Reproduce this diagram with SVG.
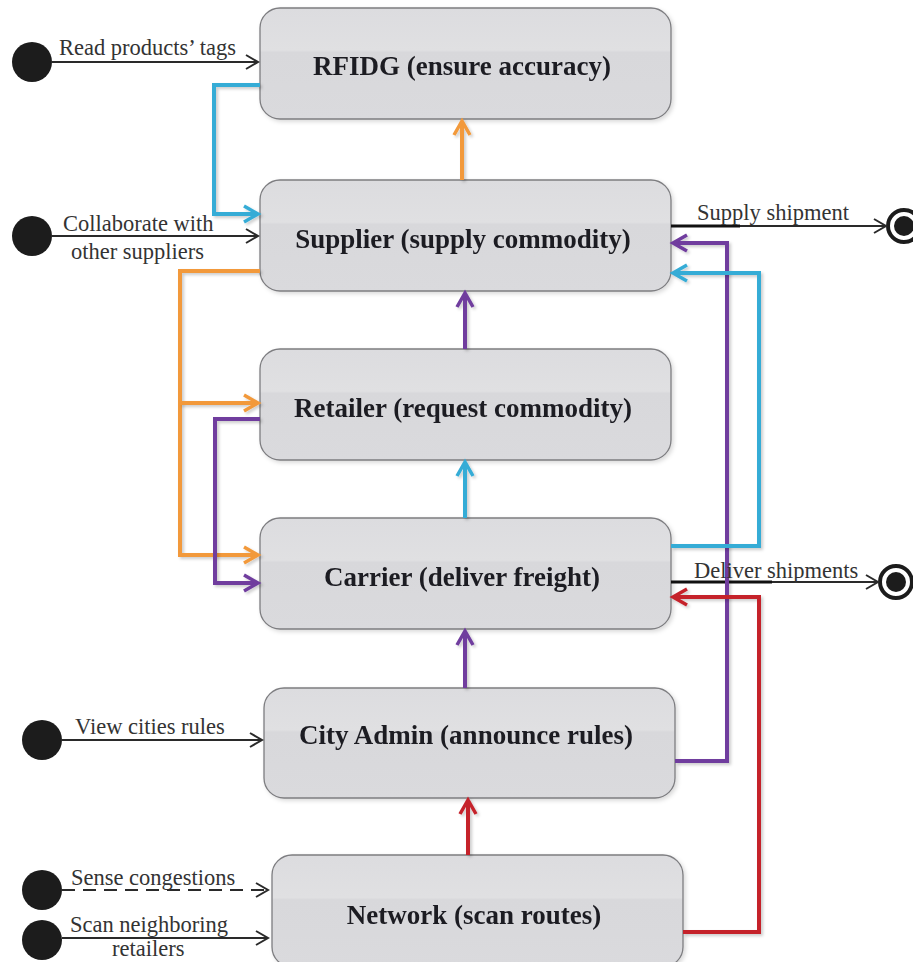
<svg xmlns="http://www.w3.org/2000/svg" width="913" height="962" viewBox="0 0 913 962">
  <style>
    .node rect { fill: url(#nodeFill); stroke: #7d7d80; stroke-width: 1.3; }
    .node text { font-family: "Liberation Serif", serif; font-weight: bold; font-size: 27px; fill: #1e1e24; text-anchor: middle; }
    .lbl { font-family: "Liberation Serif", serif; font-size: 22.5px; fill: #333; }
    .start { fill: #1c1c1c; }
    .flow { fill: none; stroke: #2a2a2a; stroke-width: 2; }
    .link { fill: none; stroke-width: 4; stroke-linejoin: miter; filter: url(#soft); }
    .orange { stroke: #f2993a; }
    .blue { stroke: #36acd6; }
    .purple { stroke: #6f3c9e; }
    .red { stroke: #c5232c; }
  </style>
  <defs>
    <linearGradient id="nodeFill" x1="0" y1="0" x2="0" y2="1">
      <stop offset="0" stop-color="#dcdcdf"/>
      <stop offset="0.38" stop-color="#e0e0e2"/>
      <stop offset="0.4" stop-color="#d8d8db"/>
      <stop offset="1" stop-color="#dadadd"/>
    </linearGradient>
    <filter id="soft" filterUnits="userSpaceOnUse" x="0" y="0" width="913" height="962">
      <feDropShadow dx="2" dy="2" stdDeviation="1.5" flood-color="#000" flood-opacity="0.2"/>
    </filter>
    <filter id="boxShadow" x="-5%" y="-5%" width="115%" height="120%">
      <feDropShadow dx="2" dy="2" stdDeviation="2" flood-color="#000" flood-opacity="0.15"/>
    </filter>
    <marker id="aBlack" markerUnits="userSpaceOnUse" markerWidth="16" markerHeight="16" refX="13" refY="8" orient="auto">
      <path d="M1,1 L13,8 L1,15" fill="none" stroke="#2a2a2a" stroke-width="2"/>
    </marker>
    <marker id="aOrange" markerUnits="userSpaceOnUse" markerWidth="20" markerHeight="20" refX="16" refY="10" orient="auto">
      <path d="M2,2 L16,10 L2,18" fill="none" stroke="#f2993a" stroke-width="3.5"/>
    </marker>
    <marker id="aBlue" markerUnits="userSpaceOnUse" markerWidth="20" markerHeight="20" refX="16" refY="10" orient="auto">
      <path d="M2,2 L16,10 L2,18" fill="none" stroke="#36acd6" stroke-width="3.5"/>
    </marker>
    <marker id="aPurple" markerUnits="userSpaceOnUse" markerWidth="20" markerHeight="20" refX="16" refY="10" orient="auto">
      <path d="M2,2 L16,10 L2,18" fill="none" stroke="#6f3c9e" stroke-width="3.5"/>
    </marker>
    <marker id="aRed" markerUnits="userSpaceOnUse" markerWidth="20" markerHeight="20" refX="16" refY="10" orient="auto">
      <path d="M2,2 L16,10 L2,18" fill="none" stroke="#c5232c" stroke-width="3.5"/>
    </marker>
  </defs>

  <rect width="913" height="962" fill="#fff"/>

  <!-- state nodes -->
  <g id="rfidg" class="node" filter="url(#boxShadow)">
    <rect x="260" y="8" width="411" height="111" rx="20"/>
    <text x="462" y="75">RFIDG (ensure accuracy)</text>
  </g>
  <g id="supplier" class="node" filter="url(#boxShadow)">
    <rect x="260" y="180" width="411" height="111" rx="20"/>
    <text x="463" y="248">Supplier (supply commodity)</text>
  </g>
  <g id="retailer" class="node" filter="url(#boxShadow)">
    <rect x="260" y="349" width="411" height="111" rx="20"/>
    <text x="463" y="417">Retailer (request commodity)</text>
  </g>
  <g id="carrier" class="node" filter="url(#boxShadow)">
    <rect x="260" y="518" width="411" height="111" rx="20"/>
    <text x="462" y="586">Carrier (deliver freight)</text>
  </g>
  <g id="city-admin" class="node" filter="url(#boxShadow)">
    <rect x="264" y="688" width="411" height="110" rx="20"/>
    <text x="466" y="744">City Admin (announce rules)</text>
  </g>
  <g id="network" class="node" filter="url(#boxShadow)">
    <rect x="272" y="855" width="411" height="112" rx="20"/>
    <text x="474" y="924">Network (scan routes)</text>
  </g>

  <!-- start and end states -->
  <g id="start-states">
    <circle class="start" cx="32" cy="62" r="20"/>
    <circle class="start" cx="32" cy="236" r="20"/>
    <circle class="start" cx="42" cy="740" r="20"/>
    <circle class="start" cx="42" cy="890" r="20"/>
    <circle class="start" cx="42" cy="940" r="20"/>
  </g>
  <g id="end-states">
    <circle cx="904" cy="226" r="16" fill="#fff" stroke="#1c1c1c" stroke-width="4"/>
    <circle cx="904" cy="226" r="10" fill="#1c1c1c"/>
    <circle cx="896" cy="582" r="16" fill="#fff" stroke="#1c1c1c" stroke-width="4"/>
    <circle cx="896" cy="582" r="10" fill="#1c1c1c"/>
  </g>

  <!-- connectors -->
  <g id="connectors">
    <!-- external triggers -->
    <path class="flow" d="M52,62 H258" marker-end="url(#aBlack)"/>
    <path class="flow" d="M52,236 H258" marker-end="url(#aBlack)"/>
    <path class="flow" d="M62,740 H262" marker-end="url(#aBlack)"/>
    <path class="flow" d="M62,890 H268" stroke-dasharray="13,8" marker-end="url(#aBlack)"/>
    <path class="flow" d="M62,938 H268" marker-end="url(#aBlack)"/>
    <!-- outputs to end states -->
    <path class="flow" d="M671,226 H886" marker-end="url(#aBlack)"/>
    <path d="M671,226 H740" stroke="#111" stroke-width="3"/>
    <path class="flow" d="M671,582 H878" marker-end="url(#aBlack)"/>
    <path d="M671,582 H772" stroke="#111" stroke-width="3"/>

    <!-- vertical chain -->
    <path class="link orange" d="M462,180 V121" marker-end="url(#aOrange)"/>
    <path class="link purple" d="M465,349 V293" marker-end="url(#aPurple)"/>
    <path class="link blue" d="M465,518 V462" marker-end="url(#aBlue)"/>
    <path class="link purple" d="M465,688 V631" marker-end="url(#aPurple)"/>
    <path class="link red" d="M468,855 V800" marker-end="url(#aRed)"/>

    <!-- left-side loops -->
    <path class="link blue" d="M260,85 H214 V214 H258" marker-end="url(#aBlue)"/>
    <path class="link orange" d="M260,271 H180 V555 H258" marker-end="url(#aOrange)"/>
    <path class="link orange" d="M180,403 H258" marker-end="url(#aOrange)"/>
    <path class="link purple" d="M260,419 H215 V583 H258" marker-end="url(#aPurple)"/>

    <!-- right-side loops -->
    <path class="link purple" d="M675,761 H727 V243 H673" marker-end="url(#aPurple)"/>
    <path class="link blue" d="M671,546 H759 V273 H673" marker-end="url(#aBlue)"/>
    <path class="link red" d="M683,932 H759 V597 H673" marker-end="url(#aRed)"/>
  </g>

  <!-- connector labels -->
  <g id="labels">
    <text class="lbl" x="59" y="55">Read products’ tags</text>
    <text class="lbl" x="63" y="231">Collaborate with</text>
    <text class="lbl" x="71" y="259">other suppliers</text>
    <text class="lbl" x="697" y="220">Supply shipment</text>
    <text class="lbl" x="694" y="578">Deliver shipments</text>
    <text class="lbl" x="75" y="734">View cities rules</text>
    <text class="lbl" x="71" y="885">Sense congestions</text>
    <text class="lbl" x="70" y="932">Scan neighboring</text>
    <text class="lbl" x="112" y="956">retailers</text>
  </g>
</svg>
